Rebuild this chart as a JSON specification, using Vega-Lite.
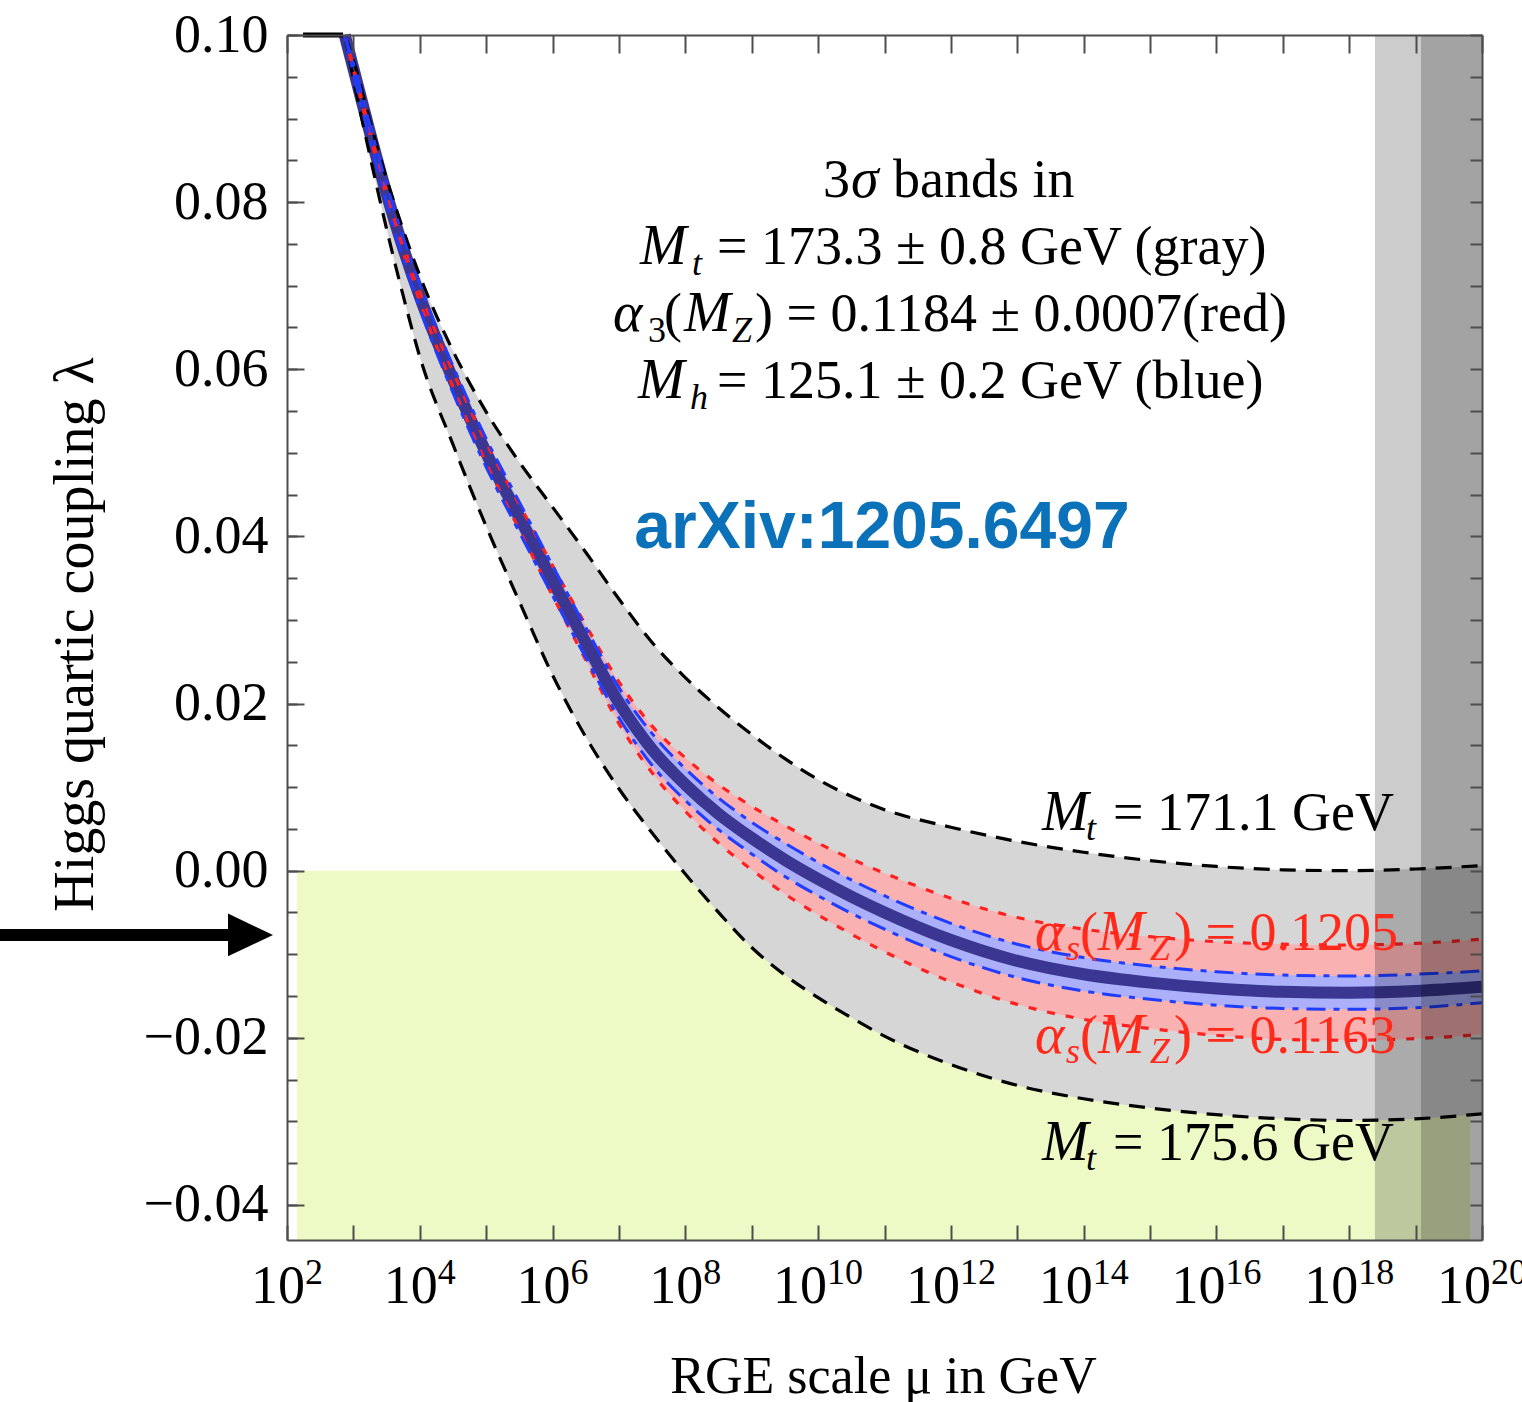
{
  "$schema": "https://vega.github.io/schema/vega-lite/v6.json",
  "width": 1195,
  "height": 1205,
  "autosize": {"type": "none"},
  "padding": {"left": 287, "top": 35, "right": 40, "bottom": 162},
  "background": "white",
  "config": {
    "view": {"stroke": null},
    "axis": {"grid": false, "labelColor": "black", "titleColor": "black", "tickColor": "#4d4d4d", "tickWidth": 2, "domainColor": "#4d4d4d", "domainWidth": 2}
  },
  "datasets": {
    "curves": [
      {"mu": 741.3, "c": 0.1, "bu": 0.1, "bl": 0.1, "ru": 0.1, "rl": 0.1, "gu": 0.1, "gl": 0.1},
      {"mu": 1000, "c": 0.0960, "bu": 0.0966, "bl": 0.0954, "ru": 0.0962, "rl": 0.0958, "gu": 0.0970, "gl": 0.0948},
      {"mu": 1778.3, "c": 0.0883, "bu": 0.0892, "bl": 0.0874, "ru": 0.0886, "rl": 0.0880, "gu": 0.0897, "gl": 0.0855},
      {"mu": 3162.3, "c": 0.0810, "bu": 0.0821, "bl": 0.0799, "ru": 0.0814, "rl": 0.0806, "gu": 0.0828, "gl": 0.0768},
      {"mu": 5623.4, "c": 0.0745, "bu": 0.0758, "bl": 0.0732, "ru": 0.0750, "rl": 0.0740, "gu": 0.0767, "gl": 0.0688},
      {"mu": 1e4, "c": 0.0687, "bu": 0.0701, "bl": 0.0673, "ru": 0.0693, "rl": 0.0681, "gu": 0.0712, "gl": 0.0615},
      {"mu": 31622.8, "c": 0.0588, "bu": 0.0604, "bl": 0.0572, "ru": 0.0597, "rl": 0.0579, "gu": 0.0622, "gl": 0.0510},
      {"mu": 1e5, "c": 0.0500, "bu": 0.0517, "bl": 0.0483, "ru": 0.0512, "rl": 0.0488, "gu": 0.0549, "gl": 0.0412},
      {"mu": 316227.8, "c": 0.0423, "bu": 0.0441, "bl": 0.0405, "ru": 0.0438, "rl": 0.0408, "gu": 0.0489, "gl": 0.0322},
      {"mu": 1e6, "c": 0.0347, "bu": 0.0365, "bl": 0.0329, "ru": 0.0365, "rl": 0.0329, "gu": 0.0435, "gl": 0.0234},
      {"mu": 3162277.7, "c": 0.0273, "bu": 0.0291, "bl": 0.0255, "ru": 0.0294, "rl": 0.0252, "gu": 0.0381, "gl": 0.0160},
      {"mu": 1e7, "c": 0.0201, "bu": 0.0219, "bl": 0.0183, "ru": 0.0226, "rl": 0.0176, "gu": 0.0325, "gl": 0.0098},
      {"mu": 31622776.6, "c": 0.0145, "bu": 0.0164, "bl": 0.0126, "ru": 0.0173, "rl": 0.0117, "gu": 0.0273, "gl": 0.0045},
      {"mu": 1e8, "c": 0.0103, "bu": 0.0122, "bl": 0.0084, "ru": 0.0135, "rl": 0.0071, "gu": 0.0231, "gl": -0.0004},
      {"mu": 316227766, "c": 0.0068, "bu": 0.0087, "bl": 0.0049, "ru": 0.0103, "rl": 0.0033, "gu": 0.0195, "gl": -0.0050},
      {"mu": 1e9, "c": 0.0039, "bu": 0.0058, "bl": 0.0020, "ru": 0.0077, "rl": 0.0001, "gu": 0.0163, "gl": -0.0092},
      {"mu": 3162277660, "c": 0.0013, "bu": 0.0033, "bl": -0.0007, "ru": 0.0054, "rl": -0.0028, "gu": 0.0134, "gl": -0.0125},
      {"mu": 1e10, "c": -0.0010, "bu": 0.0010, "bl": -0.0030, "ru": 0.0033, "rl": -0.0053, "gu": 0.0109, "gl": -0.0152},
      {"mu": 31622776602, "c": -0.0031, "bu": -0.0011, "bl": -0.0051, "ru": 0.0014, "rl": -0.0076, "gu": 0.0089, "gl": -0.0176},
      {"mu": 1e11, "c": -0.0050, "bu": -0.0030, "bl": -0.0070, "ru": -0.0003, "rl": -0.0097, "gu": 0.0073, "gl": -0.0198},
      {"mu": 1e12, "c": -0.0083, "bu": -0.0063, "bl": -0.0103, "ru": -0.0033, "rl": -0.0133, "gu": 0.0052, "gl": -0.0232},
      {"mu": 1e13, "c": -0.0108, "bu": -0.0088, "bl": -0.0128, "ru": -0.0056, "rl": -0.0160, "gu": 0.0035, "gl": -0.0257},
      {"mu": 1e14, "c": -0.0124, "bu": -0.0104, "bl": -0.0144, "ru": -0.0070, "rl": -0.0178, "gu": 0.0022, "gl": -0.0273},
      {"mu": 1e15, "c": -0.0134, "bu": -0.0114, "bl": -0.0154, "ru": -0.0079, "rl": -0.0189, "gu": 0.0012, "gl": -0.0284},
      {"mu": 1e16, "c": -0.0141, "bu": -0.0121, "bl": -0.0161, "ru": -0.0085, "rl": -0.0197, "gu": 0.0005, "gl": -0.0292},
      {"mu": 1e17, "c": -0.0145, "bu": -0.0125, "bl": -0.0165, "ru": -0.0088, "rl": -0.0202, "gu": 0.0001, "gl": -0.0297},
      {"mu": 1e18, "c": -0.0146, "bu": -0.0126, "bl": -0.0166, "ru": -0.0089, "rl": -0.0203, "gu": 0.0000, "gl": -0.0299},
      {"mu": 1e19, "c": -0.0144, "bu": -0.0124, "bl": -0.0164, "ru": -0.0087, "rl": -0.0201, "gu": 0.0002, "gl": -0.0297},
      {"mu": 1e20, "c": -0.0139, "bu": -0.0120, "bl": -0.0158, "ru": -0.0082, "rl": -0.0196, "gu": 0.0006, "gl": -0.0291}
    ],
    "region": [{"x1": 141.6, "x2": 6.59e19, "y1": 0, "y2": -0.0442}],
    "vbands": [{"x1": 2.44e18, "x2": 1e20}, {"x1": 1.205e19, "x2": 1e20}],
    "clipseg": [{"x1": 174, "x2": 700, "y": 0.1}],
    "arrow": [{"x1": 0.0034, "x2": 16, "xh": 28.2, "y": -0.0077}],
    "xticks": [
      {"mu": 1e2, "e": "2"}, {"mu": 1e4, "e": "4"}, {"mu": 1e6, "e": "6"}, {"mu": 1e8, "e": "8"},
      {"mu": 1e10, "e": "10"}, {"mu": 1e12, "e": "12"}, {"mu": 1e14, "e": "14"}, {"mu": 1e16, "e": "16"},
      {"mu": 1e18, "e": "18"}, {"mu": 1e20, "e": "20"}
    ],
    "labels": [
      {"t": "3", "mu": 1.186e10, "lam": 0.0806, "kind": "reg", "col": "k"},
      {"t": "σ", "mu": 3.126e10, "lam": 0.0806, "kind": "ital", "col": "k"},
      {"t": "bands in", "mu": 1.343e11, "lam": 0.0806, "kind": "reg", "col": "k"},
      {"t": "M", "mu": 2.076e7, "lam": 0.0726, "kind": "ital", "col": "k"},
      {"t": "t", "mu": 1.259e8, "lam": 0.0713, "kind": "subi", "col": "k"},
      {"t": "= 173.3 ± 0.8 GeV (gray)", "mu": 3.0e8, "lam": 0.0726, "kind": "reg", "col": "k"},
      {"t": "α", "mu": 8.13e6, "lam": 0.0646, "kind": "ital", "col": "k"},
      {"t": "3", "mu": 2.74e7, "lam": 0.0633, "kind": "subr", "col": "k"},
      {"t": "(", "mu": 4.78e7, "lam": 0.0646, "kind": "reg", "col": "k"},
      {"t": "M", "mu": 9.55e7, "lam": 0.0646, "kind": "ital", "col": "k"},
      {"t": "Z", "mu": 5.05e8, "lam": 0.0633, "kind": "subi", "col": "k"},
      {"t": ") = 0.1184 ± 0.0007(red)", "mu": 1.12e9, "lam": 0.0646, "kind": "reg", "col": "k"},
      {"t": "M", "mu": 1.937e7, "lam": 0.0566, "kind": "ital", "col": "k"},
      {"t": "h", "mu": 1.175e8, "lam": 0.0553, "kind": "subi", "col": "k"},
      {"t": "= 125.1 ± 0.2 GeV (blue)", "mu": 3.0e8, "lam": 0.0566, "kind": "reg", "col": "k"},
      {"t": "M", "mu": 2.355e13, "lam": 0.0049, "kind": "ital", "col": "k"},
      {"t": "t", "mu": 1.084e14, "lam": 0.0037, "kind": "subi", "col": "k"},
      {"t": "= 171.1 GeV", "mu": 2.767e14, "lam": 0.0049, "kind": "reg", "col": "k"},
      {"t": "α", "mu": 1.849e13, "lam": -0.0095, "kind": "ital", "col": "r"},
      {"t": "s", "mu": 5.42e13, "lam": -0.0107, "kind": "subi", "col": "r"},
      {"t": "(", "mu": 8.79e13, "lam": -0.0095, "kind": "reg", "col": "r"},
      {"t": "M", "mu": 1.644e14, "lam": -0.0095, "kind": "ital", "col": "r"},
      {"t": "Z", "mu": 9.98e14, "lam": -0.0107, "kind": "subi", "col": "r"},
      {"t": ") = 0.1205", "mu": 2.29e15, "lam": -0.0095, "kind": "reg", "col": "r"},
      {"t": "α", "mu": 1.849e13, "lam": -0.0218, "kind": "ital", "col": "r"},
      {"t": "s", "mu": 5.42e13, "lam": -0.0230, "kind": "subi", "col": "r"},
      {"t": "(", "mu": 8.79e13, "lam": -0.0218, "kind": "reg", "col": "r"},
      {"t": "M", "mu": 1.644e14, "lam": -0.0218, "kind": "ital", "col": "r"},
      {"t": "Z", "mu": 9.98e14, "lam": -0.0230, "kind": "subi", "col": "r"},
      {"t": ") = 0.1163", "mu": 2.29e15, "lam": -0.0218, "kind": "reg", "col": "r"},
      {"t": "M", "mu": 2.355e13, "lam": -0.0346, "kind": "ital", "col": "k"},
      {"t": "t", "mu": 1.084e14, "lam": -0.0358, "kind": "subi", "col": "k"},
      {"t": "= 175.6 GeV", "mu": 2.767e14, "lam": -0.0346, "kind": "reg", "col": "k"},
      {"t": "arXiv:1205.6497", "mu": 9.16e10, "lam": 0.0386, "kind": "arx", "col": "b"}
    ]
  },
  "resolve": {"axis": {"x": "independent", "y": "independent"}},
  "layer": [
    {
      "data": {"name": "region"},
      "mark": {"type": "rect", "color": "#eefac6"},
      "encoding": {
        "x": {"field": "x1", "type": "quantitative", "scale": {"type": "log", "domain": [100, 1e20], "nice": false},
          "axis": {"orient": "bottom", "values": [1e2, 1e4, 1e6, 1e8, 1e10, 1e12, 1e14, 1e16, 1e18, 1e20], "ticks": false, "tickSize": 0, "domain": false, "labels": false,
            "title": "RGE scale μ in GeV", "titleFont": "Liberation Serif", "titleFontSize": 52, "titleFontWeight": "normal", "titleX": 596, "titleY": 152, "titleBaseline": "alphabetic", "titleAlign": "center"}},
        "x2": {"field": "x2"},
        "y": {"field": "y1", "type": "quantitative", "scale": {"domain": [-0.0442, 0.1], "nice": false, "zero": false},
          "axis": {"orient": "left", "values": [-0.04, -0.02, 0, 0.02, 0.04, 0.06, 0.08, 0.1], "ticks": false, "tickSize": 0, "domain": false, "format": ".2f", "labelFont": "Liberation Serif", "labelFontSize": 54, "labelPadding": 19, "labelFlush": false, "labelOverlap": false, "labelBound": false,
            "title": "Higgs quartic coupling λ", "titleFont": "Liberation Serif", "titleFontSize": 56, "titleFontWeight": "normal", "titleAngle": -90, "titleX": -195, "titleY": 599, "titleBaseline": "alphabetic", "titleAlign": "center"}},
        "y2": {"field": "y2"}
      }
    },
    {
      "data": {"name": "curves"},
      "mark": {"type": "area", "color": "#d6d6d6", "interpolate": "monotone"},
      "encoding": {
        "x": {"field": "mu", "type": "quantitative", "scale": {"type": "log", "domain": [100, 1e20], "nice": false},
          "axis": {"orient": "top", "values": [1e2, 1e3, 1e4, 1e5, 1e6, 1e7, 1e8, 1e9, 1e10, 1e11, 1e12, 1e13, 1e14, 1e15, 1e16, 1e17, 1e18, 1e19, 1e20], "labels": false, "tickSize": -18, "domain": true, "zindex": 1, "title": null}},
        "y": {"field": "gl", "type": "quantitative", "scale": {"domain": [-0.0442, 0.1], "nice": false, "zero": false},
          "axis": {"orient": "left", "values": [-0.04, -0.02, 0, 0.02, 0.04, 0.06, 0.08, 0.1], "labels": false, "tickSize": -17, "domain": true, "zindex": 1, "title": null}},
        "y2": {"field": "gu"}
      }
    },
    {
      "data": {"name": "curves"},
      "mark": {"type": "area", "color": "#f9b1b2", "interpolate": "monotone"},
      "encoding": {
        "x": {"field": "mu", "type": "quantitative", "scale": {"type": "log", "domain": [100, 1e20], "nice": false},
          "axis": {"orient": "bottom", "values": [1e2, 1e3, 1e4, 1e5, 1e6, 1e7, 1e8, 1e9, 1e10, 1e11, 1e12, 1e13, 1e14, 1e15, 1e16, 1e17, 1e18, 1e19, 1e20], "labels": false, "tickSize": -15, "domain": true, "zindex": 1, "title": null}},
        "y": {"field": "rl", "type": "quantitative", "scale": {"domain": [-0.0442, 0.1], "nice": false, "zero": false},
          "axis": {"orient": "left", "values": [-0.04, -0.035, -0.03, -0.025, -0.02, -0.015, -0.01, -0.005, 0, 0.005, 0.01, 0.015, 0.02, 0.025, 0.03, 0.035, 0.04, 0.045, 0.05, 0.055, 0.06, 0.065, 0.07, 0.075, 0.08, 0.085, 0.09, 0.095, 0.1], "labels": false, "tickSize": -10, "domain": false, "zindex": 1, "title": null}},
        "y2": {"field": "ru"}
      }
    },
    {
      "data": {"name": "curves"},
      "mark": {"type": "area", "color": "#acb0fb", "interpolate": "monotone"},
      "encoding": {
        "x": {"field": "mu", "type": "quantitative", "scale": {"type": "log", "domain": [100, 1e20], "nice": false}, "axis": null},
        "y": {"field": "bl", "type": "quantitative", "scale": {"domain": [-0.0442, 0.1], "nice": false, "zero": false},
          "axis": {"orient": "right", "values": [-0.04, -0.035, -0.03, -0.025, -0.02, -0.015, -0.01, -0.005, 0, 0.005, 0.01, 0.015, 0.02, 0.025, 0.03, 0.035, 0.04, 0.045, 0.05, 0.055, 0.06, 0.065, 0.07, 0.075, 0.08, 0.085, 0.09, 0.095, 0.1], "labels": false, "tickSize": -12, "domain": true, "zindex": 1, "title": null}},
        "y2": {"field": "bu"}
      }
    },
    {
      "mark": {"type": "rule", "color": "black", "strokeWidth": 2.5},
      "encoding": {"y": {"datum": 0, "type": "quantitative", "axis": null}}
    },
    {
      "data": {"name": "curves"},
      "mark": {"type": "line", "color": "#3a3691", "strokeWidth": 12, "interpolate": "monotone"},
      "encoding": {"x": {"field": "mu", "type": "quantitative", "axis": null}, "y": {"field": "c", "type": "quantitative", "axis": null}}
    },
    {
      "data": {"name": "curves"},
      "mark": {"type": "line", "color": "black", "strokeWidth": 3.2, "strokeDash": [16, 10], "interpolate": "monotone"},
      "encoding": {"x": {"field": "mu", "type": "quantitative", "axis": null}, "y": {"field": "gu", "type": "quantitative", "axis": null}}
    },
    {
      "data": {"name": "curves"},
      "mark": {"type": "line", "color": "black", "strokeWidth": 3.2, "strokeDash": [16, 10], "interpolate": "monotone"},
      "encoding": {"x": {"field": "mu", "type": "quantitative", "axis": null}, "y": {"field": "gl", "type": "quantitative", "axis": null}}
    },
    {
      "data": {"name": "curves"},
      "mark": {"type": "line", "color": "#ff2020", "strokeWidth": 3.2, "strokeDash": [8, 11], "interpolate": "monotone"},
      "encoding": {"x": {"field": "mu", "type": "quantitative", "axis": null}, "y": {"field": "ru", "type": "quantitative", "axis": null}}
    },
    {
      "data": {"name": "curves"},
      "mark": {"type": "line", "color": "#ff2020", "strokeWidth": 3.2, "strokeDash": [8, 11], "interpolate": "monotone"},
      "encoding": {"x": {"field": "mu", "type": "quantitative", "axis": null}, "y": {"field": "rl", "type": "quantitative", "axis": null}}
    },
    {
      "data": {"name": "curves"},
      "mark": {"type": "line", "color": "#1f3cff", "strokeWidth": 3, "strokeDash": [19, 8, 6, 8], "interpolate": "monotone"},
      "encoding": {"x": {"field": "mu", "type": "quantitative", "axis": null}, "y": {"field": "bu", "type": "quantitative", "axis": null}}
    },
    {
      "data": {"name": "curves"},
      "mark": {"type": "line", "color": "#1f3cff", "strokeWidth": 3, "strokeDash": [19, 8, 6, 8], "interpolate": "monotone"},
      "encoding": {"x": {"field": "mu", "type": "quantitative", "axis": null}, "y": {"field": "bl", "type": "quantitative", "axis": null}}
    },
    {
      "data": {"name": "vbands"},
      "mark": {"type": "rect", "color": "black", "opacity": 0.2},
      "encoding": {"x": {"field": "x1", "type": "quantitative", "axis": null}, "x2": {"field": "x2"}, "y": {"datum": 0.1, "type": "quantitative", "axis": null}, "y2": {"datum": -0.0442}}
    },
    {
      "data": {"name": "clipseg"},
      "mark": {"type": "rule", "color": "black", "strokeWidth": 5},
      "encoding": {"x": {"field": "x1", "type": "quantitative", "axis": null}, "x2": {"field": "x2"}, "y": {"field": "y", "type": "quantitative", "axis": null}}
    },
    {
      "data": {"name": "arrow"},
      "mark": {"type": "rule", "color": "black", "strokeWidth": 12},
      "encoding": {"x": {"field": "x1", "type": "quantitative", "axis": null}, "x2": {"field": "x2"}, "y": {"field": "y", "type": "quantitative", "axis": null}}
    },
    {
      "data": {"name": "arrow"},
      "mark": {"type": "point", "shape": "M-1,-0.95L1,0L-1,0.95Z", "filled": true, "color": "black", "opacity": 1, "size": 2025, "strokeWidth": 0},
      "encoding": {"x": {"field": "xh", "type": "quantitative", "axis": null}, "y": {"field": "y", "type": "quantitative", "axis": null}}
    },
    {
      "data": {"name": "xticks"},
      "transform": [{"filter": "length(datum.e) == 1"}],
      "mark": {"type": "text", "font": "Liberation Serif", "fontSize": 54, "align": "right", "baseline": "alphabetic", "dx": 18, "dy": 63, "color": "black"},
      "encoding": {"x": {"field": "mu", "type": "quantitative", "axis": null}, "y": {"datum": -0.0442, "type": "quantitative", "axis": null}, "text": {"value": "10"}}
    },
    {
      "data": {"name": "xticks"},
      "transform": [{"filter": "length(datum.e) == 1"}],
      "mark": {"type": "text", "font": "Liberation Serif", "fontSize": 36, "align": "left", "baseline": "alphabetic", "dx": 18, "dy": 44, "color": "black"},
      "encoding": {"x": {"field": "mu", "type": "quantitative", "axis": null}, "y": {"datum": -0.0442, "type": "quantitative", "axis": null}, "text": {"field": "e"}}
    },
    {
      "data": {"name": "xticks"},
      "transform": [{"filter": "length(datum.e) == 2"}],
      "mark": {"type": "text", "font": "Liberation Serif", "fontSize": 54, "align": "right", "baseline": "alphabetic", "dx": 9, "dy": 63, "color": "black"},
      "encoding": {"x": {"field": "mu", "type": "quantitative", "axis": null}, "y": {"datum": -0.0442, "type": "quantitative", "axis": null}, "text": {"value": "10"}}
    },
    {
      "data": {"name": "xticks"},
      "transform": [{"filter": "length(datum.e) == 2"}],
      "mark": {"type": "text", "font": "Liberation Serif", "fontSize": 36, "align": "left", "baseline": "alphabetic", "dx": 9, "dy": 44, "color": "black"},
      "encoding": {"x": {"field": "mu", "type": "quantitative", "axis": null}, "y": {"datum": -0.0442, "type": "quantitative", "axis": null}, "text": {"field": "e"}}
    },
    {
      "data": {"name": "labels"},
      "transform": [{"filter": "datum.kind == 'reg'"}],
      "mark": {"type": "text", "font": "Liberation Serif", "fontSize": 54, "align": "left", "baseline": "alphabetic"},
      "encoding": {"x": {"field": "mu", "type": "quantitative", "axis": null}, "y": {"field": "lam", "type": "quantitative", "axis": null}, "text": {"field": "t"},
        "color": {"field": "col", "type": "nominal", "scale": {"domain": ["k", "r", "b"], "range": ["#000000", "#ff2a1a", "#0b72b9"]}, "legend": null}}
    },
    {
      "data": {"name": "labels"},
      "transform": [{"filter": "datum.kind == 'ital'"}],
      "mark": {"type": "text", "font": "Liberation Serif", "fontSize": 56, "fontStyle": "italic", "align": "left", "baseline": "alphabetic"},
      "encoding": {"x": {"field": "mu", "type": "quantitative", "axis": null}, "y": {"field": "lam", "type": "quantitative", "axis": null}, "text": {"field": "t"},
        "color": {"field": "col", "type": "nominal", "scale": {"domain": ["k", "r", "b"], "range": ["#000000", "#ff2a1a", "#0b72b9"]}, "legend": null}}
    },
    {
      "data": {"name": "labels"},
      "transform": [{"filter": "datum.kind == 'subi'"}],
      "mark": {"type": "text", "font": "Liberation Serif", "fontSize": 36, "fontStyle": "italic", "align": "left", "baseline": "alphabetic"},
      "encoding": {"x": {"field": "mu", "type": "quantitative", "axis": null}, "y": {"field": "lam", "type": "quantitative", "axis": null}, "text": {"field": "t"},
        "color": {"field": "col", "type": "nominal", "scale": {"domain": ["k", "r", "b"], "range": ["#000000", "#ff2a1a", "#0b72b9"]}, "legend": null}}
    },
    {
      "data": {"name": "labels"},
      "transform": [{"filter": "datum.kind == 'subr'"}],
      "mark": {"type": "text", "font": "Liberation Serif", "fontSize": 36, "align": "left", "baseline": "alphabetic"},
      "encoding": {"x": {"field": "mu", "type": "quantitative", "axis": null}, "y": {"field": "lam", "type": "quantitative", "axis": null}, "text": {"field": "t"},
        "color": {"field": "col", "type": "nominal", "scale": {"domain": ["k", "r", "b"], "range": ["#000000", "#ff2a1a", "#0b72b9"]}, "legend": null}}
    },
    {
      "data": {"name": "labels"},
      "transform": [{"filter": "datum.kind == 'arx'"}],
      "mark": {"type": "text", "font": "Liberation Sans", "fontSize": 66, "fontWeight": "bold", "align": "center", "baseline": "alphabetic"},
      "encoding": {"x": {"field": "mu", "type": "quantitative", "axis": null}, "y": {"field": "lam", "type": "quantitative", "axis": null}, "text": {"field": "t"},
        "color": {"field": "col", "type": "nominal", "scale": {"domain": ["k", "r", "b"], "range": ["#000000", "#ff2a1a", "#0b72b9"]}, "legend": null}}
    }
  ]
}
